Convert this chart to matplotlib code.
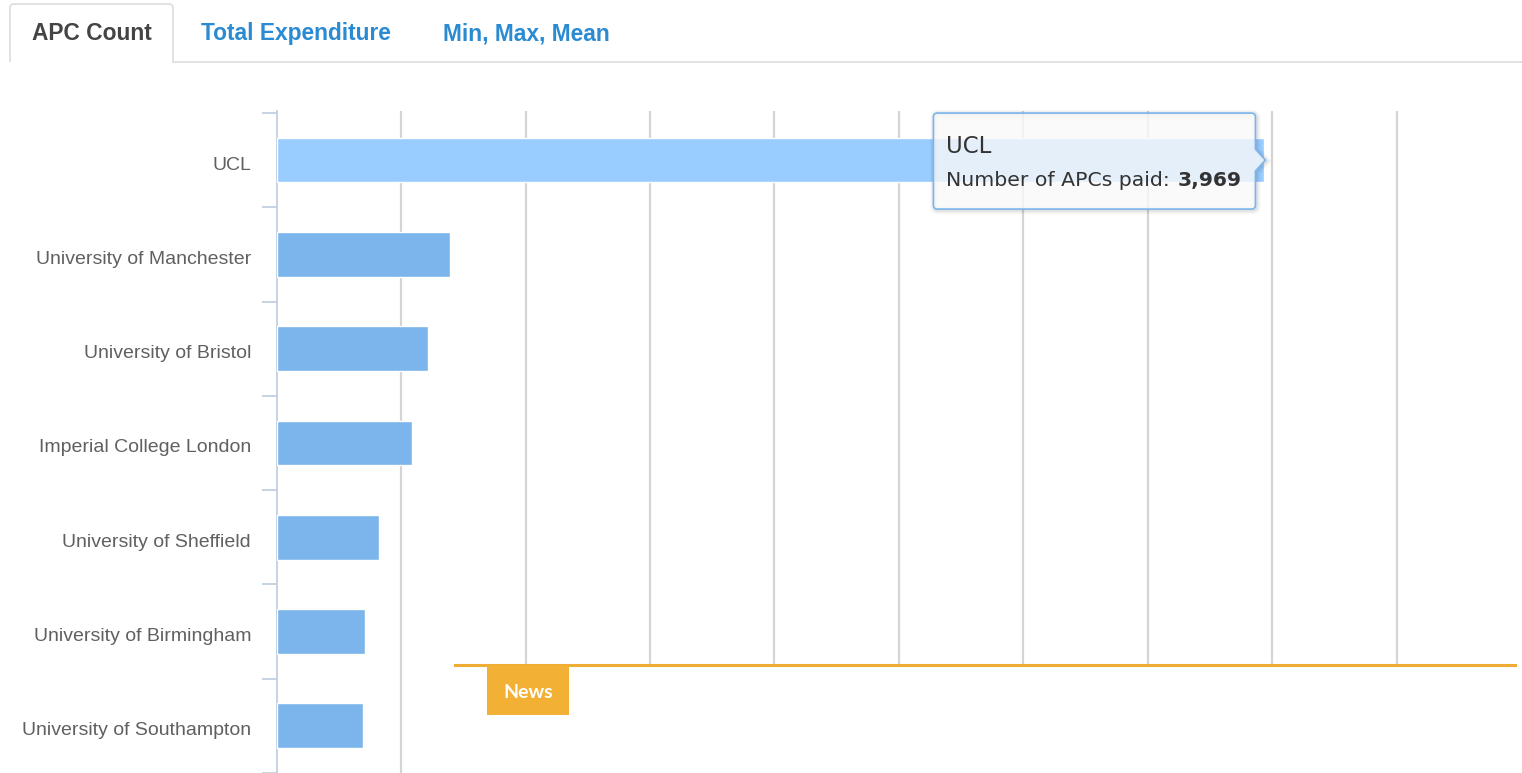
import matplotlib
matplotlib.use('Agg')
import matplotlib.pyplot as plt
from matplotlib.patches import PathPatch, Rectangle
from matplotlib.path import Path
from matplotlib.transforms import IdentityTransform, ScaledTranslation
import numpy as np

# ---- data ----
institutions = ["UCL", "University of Manchester", "University of Bristol",
                "Imperial College London", "University of Sheffield",
                "University of Birmingham", "University of Southampton"]
apc_counts = [3969, 695, 609, 545, 412, 356, 348]
tabs = ["APC Count", "Total Expenditure", "Min, Max, Mean"]
tooltip_label = "Number of APCs paid"
hover_index = 0
news_label = "News"

W, H = 1522, 773
fig = plt.figure(figsize=(W / 100, H / 100), dpi=100)
fig.patch.set_facecolor('white')
ID = IdentityTransform()


def sy(py):
    """screen y (from top) -> display y (from bottom)"""
    return H - py


# ---- chart ----
ax_left, ax_right, ax_top = 276.7, 1521.0, 111.0
ax = fig.add_axes([ax_left / W, 0, (ax_right - ax_left) / W, (H - ax_top) / H])
ypos = np.arange(len(institutions))
colors = ['#99ccff' if i == hover_index else '#7cb5ec' for i in range(len(institutions))]
ax.barh(ypos, apc_counts, height=0.475, color=colors, edgecolor='white',
        linewidth=1, zorder=3)
ax.set_xlim(0, 5000)
band_px = 94.75
first_center = 160.3
ax.set_ylim((H - first_center) / band_px, -(first_center - ax_top) / band_px)

ax.set_xticks(np.arange(500, 5000, 500))
ax.xaxis.grid(True, color='#d4d4d4', linewidth=1.6, zorder=0)
ax.tick_params(axis='x', length=0, labelbottom=False)

for s in ['top', 'right', 'bottom']:
    ax.spines[s].set_visible(False)
ax.spines['left'].set_color('#c0d0e0')
ax.spines['left'].set_linewidth(1.3)

ax.set_yticks(ypos)
ax.set_yticklabels(institutions, fontsize=14, color='#606060',
                   family=['Liberation Sans', 'DejaVu Sans'])
ax.tick_params(axis='y', which='major', length=0, pad=18.5)
shift = ScaledTranslation(0, -3 / 100, fig.dpi_scale_trans)
for lbl in ax.get_yticklabels():
    lbl.set_transform(lbl.get_transform() + shift)
ax.set_yticks(np.arange(-0.5, len(institutions), 1.0), minor=True)
ax.tick_params(axis='y', which='minor', length=10.8, width=1.3, color='#c0d0e0')

# ---- overlay covering lower-right part (page element) ----
ov_left, ov_right, ov_top = 455, 1515, 665
fig.add_artist(Rectangle((ov_left, 0), W - ov_left, sy(ov_top), transform=ID,
                         facecolor='white', edgecolor='none', zorder=10))
fig.add_artist(plt.Line2D([ov_left, ov_right], [sy(ov_top), sy(ov_top)], transform=ID,
                          color='#f0ad35', linewidth=2.2, zorder=11))
fig.add_artist(Rectangle((487, sy(715)), 82, 715 - 665, transform=ID,
                         facecolor='#f2b035', edgecolor='none', zorder=11))
fig.text(528, sy(693), news_label, transform=ID, ha='center', va='center',
         fontsize=14, fontweight='bold', color='white', family=['Lato', 'DejaVu Sans'],
         zorder=12)

# ---- tabs ----
tl, tr, tt, tb, r = 10, 173, 4, 62, 4
tab_verts = [(tl, sy(tb)), (tl, sy(tt + r)), (tl, sy(tt)), (tl + r, sy(tt)),
             (tr - r, sy(tt)), (tr, sy(tt)), (tr, sy(tt + r)), (tr, sy(tb))]
tab_codes = [Path.MOVETO, Path.LINETO, Path.CURVE3, Path.CURVE3,
             Path.LINETO, Path.CURVE3, Path.CURVE3, Path.LINETO]
fig.add_artist(PathPatch(Path(tab_verts, tab_codes), transform=ID, facecolor='white',
                         edgecolor='#dddddd', linewidth=1.2, zorder=5))
fig.add_artist(plt.Line2D([tr, W], [sy(tb), sy(tb)], transform=ID,
                          color='#dddddd', linewidth=1.2, zorder=5))
tab_font = ['Liberation Sans', 'DejaVu Sans']
fig.text((tl + tr) / 2, sy(40), tabs[0], transform=ID, ha='center', va='baseline',
         fontsize=16.4, fontweight='bold', color='#444444', family=tab_font, zorder=6)
fig.text(201, sy(40), tabs[1], transform=ID, ha='left', va='baseline',
         fontsize=16.4, fontweight='bold', color='#2a8ad2', family=tab_font, zorder=6)
fig.text(443, sy(40), tabs[2], transform=ID, ha='left', va='baseline',
         fontsize=16.4, fontweight='bold', color='#2a8ad2', family=tab_font, zorder=6)

# ---- tooltip ----
tipx, tipy = ax.transData.transform((apc_counts[hover_index], ypos[hover_index]))
L, R = tipx - 331, tipx - 9
T, B = tipy + 47, tipy - 49
rr = 4
ah = 11
verts = [(L + rr, B), (R - rr, B), (R, B), (R, B + rr), (R, tipy - ah), (tipx + 1, tipy),
         (R, tipy + ah), (R, T - rr), (R, T), (R - rr, T), (L + rr, T), (L, T), (L, T - rr),
         (L, B + rr), (L, B), (L + rr, B), (L + rr, B)]
codes = [Path.MOVETO, Path.LINETO, Path.CURVE3, Path.CURVE3, Path.LINETO, Path.LINETO,
         Path.LINETO, Path.LINETO, Path.CURVE3, Path.CURVE3, Path.LINETO, Path.CURVE3,
         Path.CURVE3, Path.LINETO, Path.CURVE3, Path.CURVE3, Path.CLOSEPOLY]
tip_path = Path(verts, codes)
# shadow
for i, a in enumerate([0.05, 0.04, 0.03]):
    sh = Path([(x + 1, y - 1) for x, y in verts], codes)
    fig.add_artist(PathPatch(sh, transform=ID, facecolor='none',
                             edgecolor=(0, 0, 0, a), linewidth=2 + 2 * i, zorder=6))
fig.add_artist(PathPatch(tip_path, transform=ID, facecolor=(0.976, 0.976, 0.976, 0.8),
                         edgecolor='#7cb5ec', linewidth=1.2, zorder=7))
tfont = ['DejaVu Sans']
fig.text(L + 13, tipy + 7, institutions[hover_index], transform=ID, ha='left',
         va='baseline', fontsize=16.5, color='#333333', family=tfont, zorder=8)
t1 = fig.text(L + 13, tipy - 26, tooltip_label + ":", transform=ID, ha='left',
              va='baseline', fontsize=14.7, color='#333333', family=tfont, zorder=8)
renderer = fig.canvas.get_renderer()
bb = t1.get_window_extent(renderer)
fig.text(bb.x1 + 7, tipy - 26, f"{apc_counts[hover_index]:,}", transform=ID, ha='left',
         va='baseline', fontsize=14.6, fontweight='bold', color='#333333', family=tfont,
         zorder=8)

fig.savefig('out.png', dpi=100, facecolor='white')
